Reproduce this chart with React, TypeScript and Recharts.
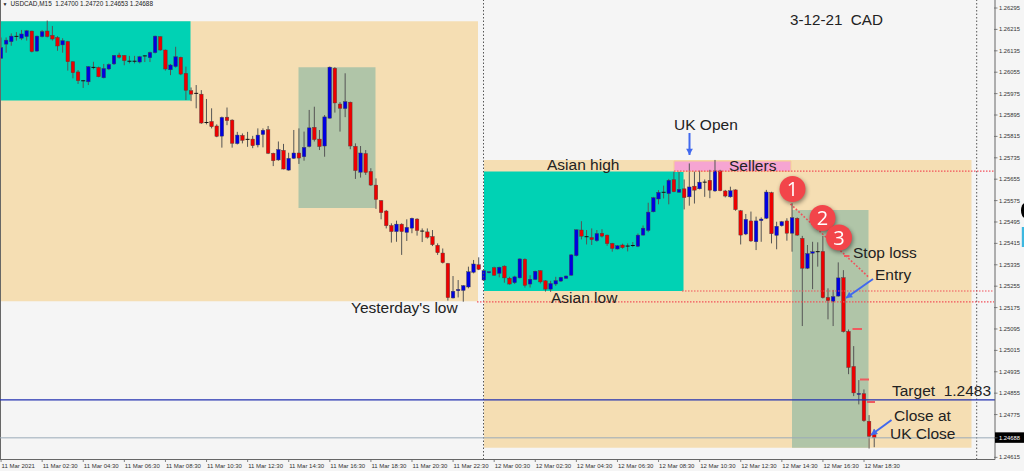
import React from "react";
import { Bar, ComposedChart, ReferenceArea, ReferenceDot, ReferenceLine, XAxis, YAxis } from "recharts";

// USDCAD M15 candles
const opens = [
  1.26107,1.26160,1.26169,1.26189,1.26182,1.26188,1.26209,1.26134,1.26188,1.26209,
  1.26193,1.26185,1.26157,1.26170,1.26094,1.26056,1.26023,1.26019,1.26073,1.26073,
  1.26034,1.26067,1.26086,1.26119,1.26118,1.26096,1.26096,1.26093,1.26116,1.26109,
  1.26128,1.26188,1.26138,1.26064,1.26076,1.26111,1.26051,1.25986,1.25976,1.25973,
  1.25867,1.25871,1.25854,1.25816,1.25887,1.25876,1.25788,1.25819,1.25804,1.25805,
  1.25783,1.25822,1.25840,1.25752,1.25727,1.25763,1.25689,1.25733,1.25753,1.25739,
  1.25777,1.25849,1.25805,1.25779,1.25883,1.26070,1.25936,1.25919,1.25943,1.25778,
  1.25681,1.25751,1.25684,1.25633,1.25575,1.25536,1.25482,1.25459,1.25487,1.25456,
  1.25472,1.25506,1.25461,1.25458,1.25441,1.25408,1.25379,1.25340,1.25211,1.25238,
  1.25239,1.25252,1.25307,1.25335,1.25278,1.25306,1.25324,1.25303,1.25330,1.25285,
  1.25268,1.25286,1.25356,1.25263,1.25280,1.25313,1.25275,1.25244,1.25263,1.25274,
  1.25284,1.25296,1.25369,1.25465,1.25440,1.25437,1.25425,1.25453,1.25446,1.25415,
  1.25394,1.25409,1.25405,1.25407,1.25404,1.25446,1.25463,1.25533,1.25581,1.25606,
  1.25601,1.25653,1.25606,1.25619,1.25589,1.25629,1.25619,1.25644,1.25651,1.25611,
  1.25686,1.25611,1.25589,1.25615,1.25537,1.25450,1.25499,1.25421,1.25500,1.25509,
  1.25605,1.25445,1.25481,1.25499,1.25453,1.25509,1.25434,1.25322,1.25378,1.25384,
  1.25385,1.25213,1.25198,1.25218,1.25287,1.25086,1.24955,1.24850,1.24853,1.24750,1.24700,
];
const closes = [
  1.26147,1.26175,1.26190,1.26189,1.26198,1.26210,1.26132,1.26190,1.26207,1.26188,
  1.26179,1.26153,1.26173,1.26094,1.26053,1.26023,1.26023,1.26076,1.26073,1.26038,
  1.26069,1.26084,1.26118,1.26111,1.26098,1.26096,1.26096,1.26113,1.26116,1.26129,
  1.26190,1.26138,1.26067,1.26082,1.26113,1.26048,1.25987,1.25973,1.25976,1.25865,
  1.25867,1.25851,1.25815,1.25886,1.25874,1.25789,1.25820,1.25800,1.25804,1.25780,
  1.25820,1.25838,1.25752,1.25724,1.25766,1.25693,1.25733,1.25753,1.25734,1.25774,
  1.25847,1.25803,1.25777,1.25888,1.26074,1.25940,1.25920,1.25945,1.25779,1.25687,
  1.25753,1.25680,1.25633,1.25579,1.25530,1.25481,1.25459,1.25487,1.25459,1.25475,
  1.25509,1.25463,1.25461,1.25438,1.25410,1.25380,1.25343,1.25212,1.25236,1.25243,
  1.25257,1.25309,1.25338,1.25318,1.25313,1.25309,1.25296,1.25326,1.25286,1.25263,
  1.25290,1.25357,1.25258,1.25281,1.25311,1.25271,1.25244,1.25265,1.25276,1.25288,
  1.25293,1.25372,1.25466,1.25442,1.25440,1.25429,1.25452,1.25442,1.25414,1.25396,
  1.25406,1.25399,1.25405,1.25407,1.25446,1.25472,1.25532,1.25586,1.25606,1.25606,
  1.25651,1.25608,1.25617,1.25586,1.25626,1.25614,1.25644,1.25644,1.25614,1.25686,
  1.25612,1.25592,1.25612,1.25541,1.25446,1.25505,1.25424,1.25499,1.25506,1.25607,
  1.25451,1.25479,1.25496,1.25453,1.25511,1.25446,1.25322,1.25377,1.25384,1.25384,
  1.25212,1.25201,1.25216,1.25286,1.25085,1.24951,1.24856,1.24854,1.24752,1.24694,1.24688,
];
const highs = [
  1.26185,1.26185,1.26200,1.26205,1.26213,1.26213,1.26210,1.26192,1.26213,1.26248,
  1.26228,1.26190,1.26182,1.26172,1.26097,1.26063,1.26026,1.26078,1.26094,1.26076,
  1.26086,1.26088,1.26119,1.26128,1.26119,1.26116,1.26116,1.26116,1.26119,1.26132,
  1.26192,1.26190,1.26140,1.26086,1.26150,1.26113,1.26076,1.25998,1.26007,1.25988,
  1.25955,1.25920,1.25860,1.25889,1.25923,1.25879,1.25832,1.25826,1.25832,1.25817,
  1.25845,1.25845,1.25854,1.25754,1.25796,1.25787,1.25754,1.25839,1.25845,1.25833,
  1.25914,1.25926,1.25839,1.25895,1.26076,1.26074,1.25943,1.26051,1.25945,1.25789,
  1.25779,1.25764,1.25696,1.25658,1.25577,1.25540,1.25490,1.25500,1.25490,1.25505,
  1.25511,1.25509,1.25471,1.25471,1.25465,1.25415,1.25396,1.25342,1.25293,1.25278,
  1.25259,1.25328,1.25353,1.25363,1.25315,1.25311,1.25328,1.25328,1.25333,1.25290,
  1.25294,1.25359,1.25359,1.25296,1.25313,1.25315,1.25278,1.25275,1.25290,1.25290,
  1.25295,1.25375,1.25467,1.25498,1.25465,1.25471,1.25465,1.25468,1.25448,1.25417,
  1.25409,1.25414,1.25415,1.25420,1.25452,1.25482,1.25567,1.25589,1.25614,1.25631,
  1.25656,1.25683,1.25683,1.25654,1.25714,1.25683,1.25687,1.25654,1.25690,1.25727,
  1.25690,1.25615,1.25627,1.25617,1.25540,1.25525,1.25534,1.25515,1.25512,1.25615,
  1.25608,1.25496,1.25499,1.25509,1.25565,1.25512,1.25443,1.25409,1.25421,1.25419,
  1.25443,1.25247,1.25241,1.25344,1.25315,1.25093,1.25031,1.24904,1.24869,1.24773,1.24720,
];
const lows = [
  1.26107,1.26128,1.26154,1.26173,1.26175,1.26173,1.26129,1.26132,1.26185,1.26185,
  1.26173,1.26135,1.26128,1.26061,1.26032,1.26011,1.25996,1.26007,1.26066,1.26036,
  1.26032,1.26063,1.26082,1.26106,1.26081,1.26088,1.26088,1.26088,1.26093,1.26093,
  1.26125,1.26135,1.26061,1.26044,1.26072,1.26044,1.25951,1.25947,1.25920,1.25862,
  1.25860,1.25845,1.25812,1.25773,1.25857,1.25773,1.25785,1.25789,1.25776,1.25771,
  1.25774,1.25774,1.25749,1.25704,1.25724,1.25692,1.25687,1.25731,1.25712,1.25724,
  1.25774,1.25796,1.25764,1.25739,1.25882,1.25904,1.25833,1.25887,1.25767,1.25656,
  1.25661,1.25671,1.25630,1.25544,1.25505,1.25471,1.25418,1.25421,1.25372,1.25424,
  1.25453,1.25444,1.25420,1.25433,1.25405,1.25372,1.25340,1.25201,1.25209,1.25213,
  1.25197,1.25247,1.25303,1.25315,1.25275,1.25303,1.25294,1.25288,1.25268,1.25261,
  1.25263,1.25284,1.25250,1.25250,1.25278,1.25265,1.25235,1.25234,1.25256,1.25271,
  1.25283,1.25294,1.25366,1.25430,1.25411,1.25409,1.25421,1.25437,1.25406,1.25384,
  1.25392,1.25395,1.25385,1.25401,1.25401,1.25444,1.25457,1.25531,1.25561,1.25583,
  1.25561,1.25606,1.25604,1.25542,1.25556,1.25564,1.25617,1.25589,1.25584,1.25608,
  1.25610,1.25587,1.25586,1.25537,1.25411,1.25446,1.25421,1.25390,1.25421,1.25506,
  1.25415,1.25393,1.25478,1.25425,1.25384,1.25443,1.25106,1.25319,1.25244,1.25328,
  1.25209,1.25131,1.25106,1.25216,1.25082,1.24926,1.24844,1.24813,1.24748,1.24648,1.24653,
];

const timeLabels = [
  "11 Mar 2021", "11 Mar 02:30", "11 Mar 04:30", "11 Mar 06:30", "11 Mar 08:30", "11 Mar 10:30",
  "11 Mar 12:30", "11 Mar 14:30", "11 Mar 16:30", "11 Mar 18:30", "11 Mar 20:30", "11 Mar 22:30",
  "12 Mar 00:30", "12 Mar 02:30", "12 Mar 04:30", "12 Mar 06:30", "12 Mar 08:30", "12 Mar 10:30",
  "12 Mar 12:30", "12 Mar 14:30", "12 Mar 16:30", "12 Mar 18:30",
];
const priceTicks = [
  1.26295, 1.26215, 1.26135, 1.26055, 1.25975, 1.25895, 1.25815, 1.25735, 1.25655, 1.25575, 1.25495,
  1.25415, 1.25335, 1.25255, 1.25175, 1.25095, 1.25015, 1.24935, 1.24855, 1.24775, 1.24688, 1.24615,
];
const lastPrice = 1.24688;
const targetPrice = 1.2483;
const asianHigh = 1.25685;
const asianLow = 1.25237;
const yesterdayLow = 1.25196;

const SLOTS = 194; // the chart leaves empty room right of the last candle
const BARS_PER_LABEL = 8;

const rows = Array.from({ length: SLOTS }, (_, i) => ({
  slot: i,
  open: opens[i],
  high: highs[i],
  low: lows[i],
  close: closes[i],
}));
const slotTicks = timeLabels.map((_, k) => k * BARS_PER_LABEL);

const INK = "#222";
const ZONE_PEACH = "#f5deb3";
const ZONE_TEAL = "#00d2b4";
const ZONE_GREEN = "#b0c5a8";
const LEVEL_RED = "#f2505a";
const ARROW_BLUE = "#4169ee";
const AXIS = "#666";

const Candle = (props: any) => {
  const { x, y, width, height, payload } = props;
  if (payload.high === undefined) return null;
  const perPrice = height / (payload.high - payload.low);
  const cx = x + width / 2;
  const top = y + (payload.high - Math.max(payload.open, payload.close)) * perPrice;
  const bottom = y + (payload.high - Math.min(payload.open, payload.close)) * perPrice;
  const doji = payload.open === payload.close;
  return (
    <g>
      <line x1={cx} x2={cx} y1={y} y2={y + height} stroke="#555" strokeWidth={1} />
      {doji ? (
        <line x1={cx - 2} x2={cx + 2} y1={top} y2={top} stroke="#111" strokeWidth={1} />
      ) : (
        <rect
          x={cx - 1.8}
          y={top}
          width={3.6}
          height={Math.max(bottom - top, 1)}
          fill={payload.close > payload.open ? "#0000e0" : "#ee0000"}
          stroke="#444"
          strokeWidth={0.4}
        />
      )}
    </g>
  );
};

const TimeTick = (props: any) => {
  const { x, y, payload } = props;
  return (
    <g>
      <line x1={x} x2={x} y1={y - 0.5} y2={y + 2.5} stroke={AXIS} strokeWidth={0.8} />
      <text x={x + 0.5} y={y + 8} fontSize={6} fontFamily="Liberation Sans" fill="#333">
        {timeLabels[payload.value / BARS_PER_LABEL]}
      </text>
    </g>
  );
};

const PriceTick = (props: any) => {
  const { x, y, payload } = props;
  const last = payload.value === lastPrice;
  return (
    <g>
      {last && <rect x={x} y={y - 5.5} width={30} height={10.5} fill="#000" />}
      <line x1={x - 1} x2={x + 2.5} y1={y} y2={y} stroke={AXIS} strokeWidth={0.8} />
      <text x={x + 4} y={y + 2} fontSize={5.8} fontFamily="Liberation Sans" fill={last ? "#fff" : "#333"}>
        {payload.value.toFixed(5)}
      </text>
    </g>
  );
};

// hand-drawn marks live on the hidden "px" axes: they were placed on the screenshot, not on a price
const note = (x: number, y: number, value: string, fontSize = 15.5) => (
  <ReferenceDot
    key={value}
    xAxisId="px"
    yAxisId="px"
    x={x}
    y={y}
    r={0}
    ifOverflow="visible"
    shape={(p: any) => (
      <text x={p.cx} y={p.cy} fontSize={fontSize} fontFamily="Liberation Sans" fill={INK} style={{ whiteSpace: "pre" }}>
        {value}
      </text>
    )}
  />
);

const badge = (x: number, y: number, value: string) => (
  <ReferenceDot
    key={value}
    xAxisId="px"
    yAxisId="px"
    x={x}
    y={y}
    r={13}
    ifOverflow="visible"
    shape={(p: any) => (
      <g style={{ filter: "drop-shadow(1px 2px 2px rgba(0,0,0,0.45))" }}>
        <circle cx={p.cx} cy={p.cy} r={13} fill="#f2454a" />
        <text x={p.cx} y={p.cy + 7} textAnchor="middle" fontSize={20} fontFamily="Open Sans" fill="#fff">
          {value}
        </text>
      </g>
    )}
  />
);

const ArrowLine = (p: any) => {
  const angle = Math.atan2(p.y2 - p.y1, p.x2 - p.x1);
  const spread = 0.5;
  const len = 7;
  const head = [angle - spread, angle + spread]
    .map((a) => `${p.x2 - len * Math.cos(a)},${p.y2 - len * Math.sin(a)}`)
    .join(" ");
  return (
    <g>
      <line x1={p.x1} y1={p.y1} x2={p.x2} y2={p.y2} stroke={ARROW_BLUE} strokeWidth={2} />
      <polygon points={`${p.x2},${p.y2} ${head}`} fill={ARROW_BLUE} />
    </g>
  );
};

const arrow = (x1: number, y1: number, x2: number, y2: number) => (
  <ReferenceLine
    key={`${x1}-${y1}`}
    xAxisId="px"
    yAxisId="px"
    ifOverflow="visible"
    segment={[{ x: x1, y: y1 }, { x: x2, y: y2 }]}
    shape={ArrowLine}
  />
);

const dash = (x1: number, x2: number, y: number) => (
  <ReferenceLine
    key={`${x1}-${y}`}
    xAxisId="px"
    yAxisId="px"
    ifOverflow="visible"
    segment={[{ x: x1, y }, { x: x2, y }]}
    stroke="#f05a5f"
    strokeWidth={2}
  />
);

const level = (price: number, from: number) => (
  <ReferenceLine
    key={price}
    xAxisId="px"
    ifOverflow="visible"
    segment={[{ x: from, y: price }, { x: 994, y: price }]}
    stroke={LEVEL_RED}
    strokeWidth={1.2}
    strokeDasharray="1.5 1.5"
  />
);

const zone = (x1: number, x2: number, y1: number, y2: number, fill: string, stroke = "none") => (
  <ReferenceArea
    key={`${x1}-${y1}`}
    xAxisId="px"
    x1={x1}
    x2={x2}
    y1={y1}
    y2={y2}
    fill={fill}
    fillOpacity={1}
    stroke={stroke}
    ifOverflow="visible"
  />
);

export default function App() {
  return (
    <div style={{ position: "absolute", left: 0, top: 0, width: 1024, height: 471, background: "#f5f5f5", overflow: "hidden" }}>
      <ComposedChart
        width={1024}
        height={471}
        data={rows}
        barCategoryGap={0}
        margin={{ top: 0, right: 0, bottom: 0, left: -1.5 }}
      >
        <XAxis
          dataKey="slot"
          type="category"
          ticks={slotTicks}
          interval={0}
          height={11.5}
          tick={<TimeTick />}
          tickLine={false}
          tickSize={0}
          tickMargin={0}
          axisLine={{ stroke: AXIS, strokeWidth: 1 }}
        />
        <XAxis xAxisId="px" dataKey="slot" type="number" domain={[-1.5, 995]} hide allowDataOverflow />
        <YAxis
          orientation="right"
          type="number"
          domain={[1.24607, 1.26325]}
          ticks={priceTicks}
          interval={0}
          width={29}
          allowDataOverflow
          tick={<PriceTick />}
          tickLine={false}
          tickSize={0}
          tickMargin={0}
          axisLine={{ stroke: AXIS, strokeWidth: 1 }}
        />
        <YAxis yAxisId="px" type="number" domain={[0, 459.5]} reversed hide allowDataOverflow />

        {zone(-1.5, 478, 1.26246, 1.25199, ZONE_PEACH)}
        {zone(-1.5, 190.5, 1.26246, 1.25949, ZONE_TEAL)}
        {zone(298.5, 375.5, 1.26074, 1.25547, ZONE_GREEN)}
        {zone(484, 971.5, 1.25727, 1.24651, ZONE_PEACH)}
        {zone(484, 683.5, 1.25684, asianLow, ZONE_TEAL)}
        {zone(792, 868.5, 1.2554, 1.24651, ZONE_GREEN)}
        {zone(674, 791, 1.25723, 1.25684, "#f6a5d2", "#f5cf95")}

        <ReferenceLine xAxisId="px" x={0.5} stroke={AXIS} strokeWidth={1} ifOverflow="visible" />
        <ReferenceLine xAxisId="px" x={483.5} stroke="#555" strokeWidth={1} strokeDasharray="1.5 2" />
        <ReferenceLine xAxisId="px" x={976.7} stroke="#555" strokeWidth={1} strokeDasharray="1.5 2" />
        <ReferenceLine xAxisId="px" y={targetPrice} stroke="#2230b0" strokeWidth={1.2} />
        <ReferenceLine xAxisId="px" y={lastPrice} stroke="#9aabb8" strokeWidth={1} />
        {level(asianHigh, 674)}
        {level(asianLow, 682)}
        {level(yesterdayLow, 477)}

        <Bar dataKey={(d: any) => (d.high === undefined ? undefined : [d.low, d.high])} shape={<Candle />} isAnimationActive={false} />

        <ReferenceLine
          xAxisId="px"
          yAxisId="px"
          ifOverflow="visible"
          segment={[{ x: 790.5, y: 204 }, { x: 868.5, y: 277 }]}
          stroke={LEVEL_RED}
          strokeWidth={1.6}
          strokeDasharray="1.8 1.8"
        />
        {dash(844, 849.5, 256)}
        {dash(852.5, 862, 329)}
        {dash(860, 869, 379.5)}
        {dash(867, 875, 402)}

        {arrow(689.5, 133, 689.5, 155)}
        {arrow(873, 279, 846, 298)}
        {arrow(891.5, 420, 871, 435)}

        {badge(792.5, 189, "1")}
        {badge(822.5, 218, "2")}
        {badge(839, 237.5, "3")}

        {note(2.5, 5.5, "▼", 5)}
        {note(10.5, 5.5, "USDCAD,M15  1.24700 1.24720 1.24653 1.24688", 6.4)}
        {note(790, 25, "3-12-21  CAD", 15.2)}
        {note(674, 130, "UK Open")}
        {note(547, 170, "Asian high")}
        {note(729, 171, "Sellers")}
        {note(551, 303, "Asian low")}
        {note(351, 313, "Yesterday's low")}
        {note(853, 258, "Stop loss")}
        {note(875, 280, "Entry")}
        {note(892, 396, "Target  1.2483")}
        {note(894, 421, "Close at")}
        {note(890, 439, "UK Close")}
      </ComposedChart>
      {/* bits of the screenshot's floating widgets at the right edge */}
      <div style={{ position: "absolute", left: 1021, top: 203, width: 8, height: 15, borderRadius: "50%", background: "#000" }} />
      <div style={{ position: "absolute", left: 1021, top: 227, width: 3, height: 20, background: "#3cb8e0", borderLeft: "1px solid #d5e5ee" }} />
    </div>
  );
}
